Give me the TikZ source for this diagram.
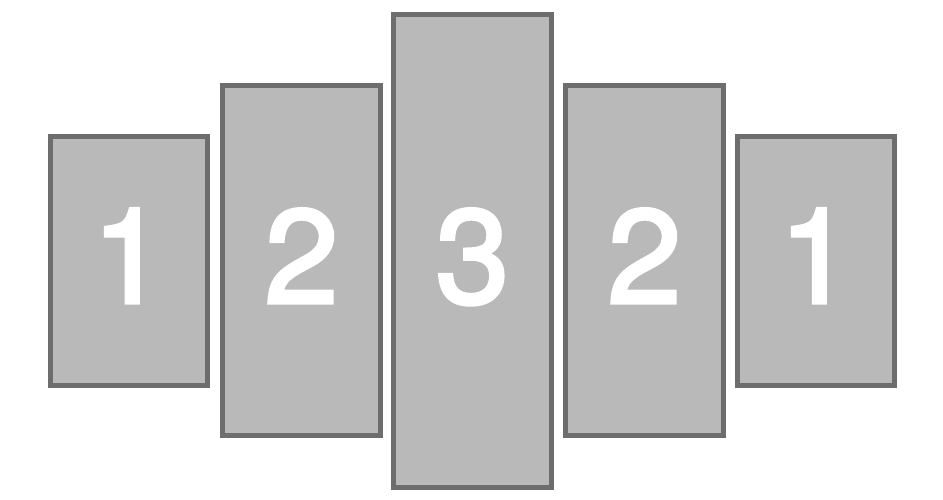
\documentclass[tikz,border=0pt]{standalone}
\usepackage{fontspec}
\newfontfamily\digitfont[FakeBold=2.6]{TeX Gyre Heros}
\definecolor{panelfill}{HTML}{B9B9B9}
\definecolor{paneledge}{HTML}{6D6D6D}
\begin{document}
\begin{tikzpicture}[x=1pt,y=1pt,
  panel/.style={draw=paneledge,fill=panelfill,line width=5pt},
  digit/.style={text=white,anchor=base,inner sep=0pt,font=\digitfont\fontsize{133}{133}\selectfont}]
\useasboundingbox (0,0) rectangle (943,500);
% outer edges (image coords): x0,x1,ytop,ybottom ; tikz y = 500 - y
\draw[panel] (50.5,{500-136.5}) rectangle (207.5,{500-385.5});
\draw[panel] (222.5,{500-85.5}) rectangle (380.5,{500-435.5});
\draw[panel] (393.5,{500-14.5}) rectangle (551.5,{500-487.5});
\draw[panel] (565.5,{500-85.5}) rectangle (723.5,{500-435.5});
\draw[panel] (737.5,{500-136.5}) rectangle (894.5,{500-385.5});
\node[digit] (d1) at (129,{500-303}) {1};
\node[digit] (d2) at (301.5,{500-303}) {2};
\node[digit] (d3) at (472.5,{500-303}) {3};
\node[digit] (d4) at (644.5,{500-303}) {2};
\node[digit] (d5) at (816,{500-303}) {1};
\end{tikzpicture}
\end{document}
